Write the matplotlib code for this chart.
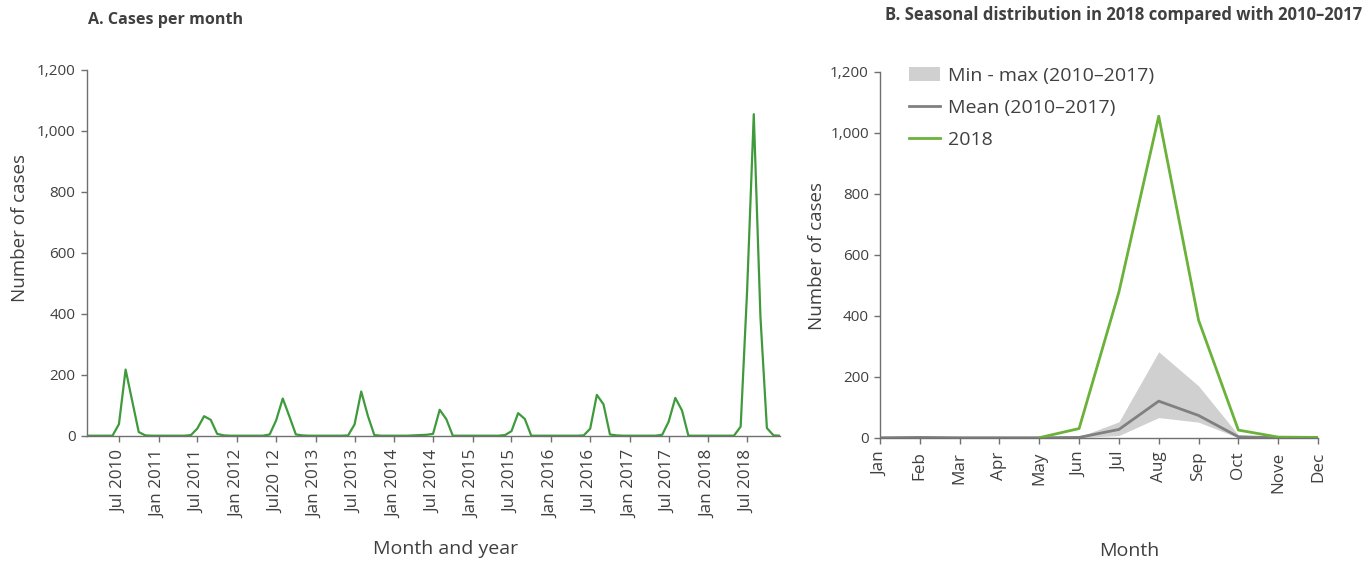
import numpy as np
import pandas as pd
import matplotlib
matplotlib.use("Agg")
import matplotlib.pyplot as plt
from matplotlib.ticker import StrMethodFormatter
from matplotlib.patches import Patch
from matplotlib.lines import Line2D

plt.rcParams['font.family'] = ['Open Sans', 'DejaVu Sans']

# monthly case counts, Feb 2010 - Dec 2018
cases_2010 = [0, 0, 0, 0, 0, 38, 217, 113, 12, 1, 0]
cases_2011 = [0, 0, 0, 0, 0, 2, 24, 64, 52, 6, 1, 0]
cases_2012 = [0, 0, 0, 0, 0, 4, 50, 122, 63, 4, 1, 0]
cases_2013 = [0, 0, 0, 0, 0, 1, 37, 145, 65, 2, 0, 0]
cases_2014 = [0, 0, 0, 1, 2, 3, 6, 85, 54, 0, 0, 0]
cases_2015 = [0, 0, 0, 0, 0, 2, 15, 74, 55, 0, 0, 0]
cases_2016 = [0, 0, 0, 0, 0, 1, 23, 134, 103, 4, 1, 0]
cases_2017 = [0, 0, 0, 0, 0, 3, 46, 124, 83, 0, 0, 0]
cases_2018 = [0, 0, 0, 0, 0, 30, 476, 1055, 390, 25, 1, 0]

monthly = (cases_2010 + cases_2011 + cases_2012 + cases_2013 + cases_2014
           + cases_2015 + cases_2016 + cases_2017 + cases_2018)
dates = pd.date_range('2010-02-01', '2018-12-01', freq='MS')

tick_dates = pd.date_range('2010-07-01', '2018-07-01', freq='6MS')
tick_labels = ['Jul 2010', 'Jan 2011', 'Jul 2011', 'Jan 2012', 'Jul20 12',
               'Jan 2013', 'Jul 2013', 'Jan 2014', 'Jul 2014', 'Jan 2015',
               'Jul 2015', 'Jan 2016', 'Jul 2016', 'Jan 2017', 'Jul 2017',
               'Jan 2018', 'Jul 2018']

# seasonal profile
month_names = ['Jan', 'Feb', 'Mar', 'Apr', 'May', 'Jun', 'Jul', 'Aug',
               'Sep', 'Oct', 'Nove', 'Dec']
min_10_17 = [0, 0, 0, 0, 0, 0, 7, 66, 51, 0, 0, 0]
max_10_17 = [1, 2, 1, 1, 2, 3, 52, 282, 170, 9, 2, 1]
mean_10_17 = [0, 1, 0, 0, 0, 1, 27, 120, 73, 3, 0, 0]
season_2018 = [np.nan, np.nan, np.nan, np.nan, 0, 30, 478, 1055, 386, 25, 2, 1]

text_col = '#404040'
spine_col = '#707070'
green_a = '#3f9a3c'
green_b = '#6ab23a'

fig = plt.figure(figsize=(13.68, 5.63), dpi=100)
W, H = 1368, 563


def style_axes(ax):
    for s in ['top', 'right']:
        ax.spines[s].set_visible(False)
    for s in ['left', 'bottom']:
        ax.spines[s].set_color(spine_col)
        ax.spines[s].set_linewidth(1.0)
    ax.tick_params(colors=spine_col, labelcolor=text_col, length=4, width=1)
    ax.tick_params(axis='x', labelsize=12.3, pad=6)
    ax.tick_params(axis='y', labelsize=11, pad=4)
    ax.set_ylim(0, 1200)
    ax.set_yticks(range(0, 1201, 200))
    ax.yaxis.set_major_formatter(StrMethodFormatter('{x:,.0f}'))


# A. cases per month
axA = fig.add_axes([86.7 / W, 1 - 435.7 / H, (780 - 86.7) / W, (435.7 - 70) / H])
axA.plot(dates, monthly, color=green_a, lw=1.6)
axA.set_xlim(dates[0], dates[-1])
axA.set_xticks(tick_dates)
axA.set_xticklabels(tick_labels, rotation=90)
style_axes(axA)
axA.set_ylabel('Number of cases', fontsize=13.5, color=text_col)
axA.yaxis.set_label_coords(-0.083, 0.568)
axA.set_xlabel('Month and year', fontsize=14, color=text_col)
axA.xaxis.set_label_coords(0.518, -0.285)

# B. seasonal distribution
axB = fig.add_axes([880 / W, 1 - 437.7 / H, (1318 - 880) / W, (437.7 - 72) / H])
x = np.arange(12)
axB.fill_between(x, min_10_17, max_10_17, color='#d0d0d0', lw=0)
axB.plot(x, mean_10_17, color='#808080', lw=2)
axB.plot(x, season_2018, color=green_b, lw=2)
axB.set_xlim(0, 11)
axB.set_xticks(x)
axB.set_xticklabels(month_names, rotation=90)
style_axes(axB)
axB.set_ylabel('Number of cases', fontsize=13.5, color=text_col)
axB.yaxis.set_label_coords(-0.123, 0.497)
axB.set_xlabel('Month', fontsize=14, color=text_col)
axB.xaxis.set_label_coords(0.568, -0.285)

handles = [Patch(facecolor='#d0d0d0', edgecolor='none'),
           Line2D([], [], color='#808080', lw=2),
           Line2D([], [], color=green_b, lw=2)]
labels = ['Min - max (2010\u20132017)', 'Mean (2010\u20132017)', '2018']
leg = axB.legend(handles, labels, loc='upper left', bbox_to_anchor=(0.066, 1.015),
                 frameon=False, fontsize=14, borderpad=0, borderaxespad=0,
                 handlelength=1.6, handletextpad=0.4, labelspacing=0.72)
for t in leg.get_texts():
    t.set_color(text_col)

fig.text(88 / W, 1 - 20 / H, 'A. Cases per month', fontsize=11.6,
         fontweight='bold', color=text_col, va='center', ha='left')
fig.text(1362 / W, 1 - 15 / H,
         'B. Seasonal distribution in 2018 compared with 2010\u20132017',
         fontsize=12, fontweight='bold', color=text_col, va='center', ha='right')

fig.savefig('out.png', dpi=100)
